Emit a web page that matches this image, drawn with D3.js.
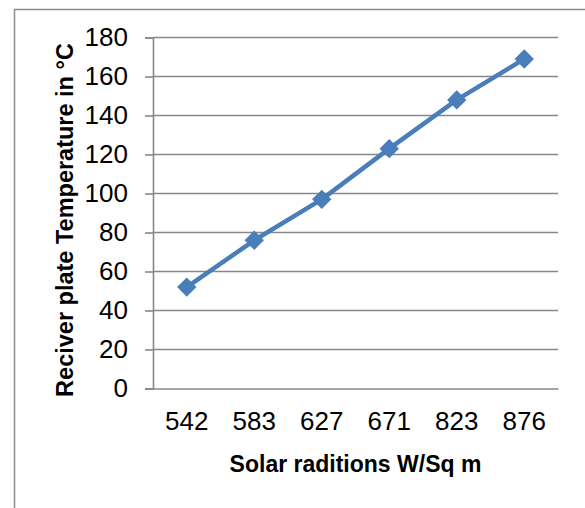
<!DOCTYPE html>
<html>
<head>
<meta charset="utf-8">
<script src="https://cdn.jsdelivr.net/npm/d3@7"></script>
<style>
  body { margin: 0; background: #fff; }
  svg { display: block; }
</style>
</head>
<body>
<div id="chart"></div>
<script>
// chart data
var radiations = ["542", "583", "627", "671", "823", "876"];
var temperatures = [52, 76, 97, 123, 148, 169];
var yTicks = [0, 20, 40, 60, 80, 100, 120, 140, 160, 180];

var width = 585, height = 508;
var margin = { top: 37.5, right: 27, bottom: 119.5, left: 153 };

var svg = d3.select("#chart").append("svg")
    .attr("width", width)
    .attr("height", height);

// outer chart frame, runs past the right and bottom edge
svg.append("rect")
    .attr("x", 14.5)
    .attr("y", 9.5)
    .attr("width", 600)
    .attr("height", 600)
    .attr("fill", "none")
    .attr("stroke", "#8c8c8c")
    .attr("stroke-width", 1.5);

var x = d3.scaleBand()
    .domain(radiations)
    .range([margin.left, width - margin.right]);

var y = d3.scaleLinear()
    .domain([0, 180])
    .range([height - margin.bottom, margin.top]);

var font = "'Liberation Sans Narrow', 'Arial Narrow', sans-serif";

// horizontal gridlines
svg.append("g")
    .selectAll("line")
    .data(yTicks.filter(d => d > 0))
    .enter().append("line")
    .attr("x1", margin.left)
    .attr("x2", width - margin.right)
    .attr("y1", d => y(d))
    .attr("y2", d => y(d))
    .attr("stroke", "#878787")
    .attr("stroke-width", 1.6);

// y axis
var yAxis = d3.axisLeft(y).tickValues(yTicks).tickSize(8).tickPadding(17);
var gy = svg.append("g")
    .attr("transform", "translate(" + margin.left + ",0)")
    .call(yAxis);
gy.select(".domain").attr("stroke", "#878787").attr("stroke-width", 1.6);
gy.selectAll(".tick line").attr("stroke", "#878787").attr("stroke-width", 1.6);
gy.selectAll("text")
    .style("font-family", font)
    .style("font-size", "26px")
    .attr("fill", "#000");

// x axis
var xAxis = d3.axisBottom(x).tickSize(0).tickPadding(23);
var gx = svg.append("g")
    .attr("transform", "translate(0," + (height - margin.bottom) + ")")
    .call(xAxis);
gx.select(".domain").attr("stroke", "#878787").attr("stroke-width", 1.6);
gx.selectAll("text")
    .style("font-family", font)
    .style("font-size", "26px")
    .attr("fill", "#000");

// series line
var line = d3.line()
    .x((d, i) => x(radiations[i]) + x.bandwidth() / 2)
    .y(d => y(d));

svg.append("path")
    .datum(temperatures)
    .attr("d", line)
    .attr("fill", "none")
    .attr("stroke", "#4a7ebb")
    .attr("stroke-width", 4.5)
    .attr("stroke-linejoin", "round");

svg.append("g")
    .selectAll("path")
    .data(temperatures)
    .enter().append("path")
    .attr("d", d3.symbol().type(d3.symbolDiamond2).size(240))
    .attr("transform", (d, i) => "translate(" + (x(radiations[i]) + x.bandwidth() / 2) + "," + y(d) + ")")
    .attr("fill", "#4a7ebb");

// axis titles
svg.append("text")
    .attr("x", (margin.left + width - margin.right) / 2)
    .attr("y", 472)
    .attr("text-anchor", "middle")
    .style("font-family", font)
    .style("font-size", "23px")
    .style("font-weight", "bold")
    .text("Solar raditions W/Sq m");

svg.append("text")
    .attr("transform", "translate(73," + ((margin.top + height - margin.bottom) / 2 + 7) + ") rotate(-90)")
    .attr("text-anchor", "middle")
    .style("font-family", font)
    .style("font-size", "23.5px")
    .style("font-weight", "bold")
    .text("Reciver plate Temperature in °C");
</script>
</body>
</html>
